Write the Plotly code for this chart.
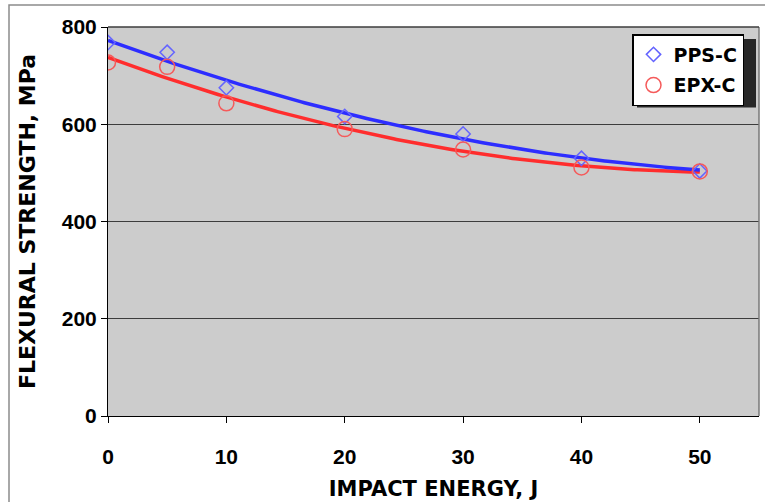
import numpy as np
import plotly.graph_objects as go

energy = [0, 5, 10, 20, 30, 40, 50]
pps_c = [768, 748, 675, 616, 580, 530, 504]
epx_c = [727, 718, 643, 590, 548, 511, 503]
series_names = ["PPS-C", "EPX-C"]
y_ticks = [0, 200, 400, 600, 800]
x_ticks = [0, 10, 20, 30, 40, 50]

# quadratic trendlines fitted to the data (as in the original spreadsheet chart)
xf = np.linspace(min(energy), max(energy), 200)
fit_pps = np.polyval(np.polyfit(energy, pps_c, 2), xf)
fit_epx = np.polyval(np.polyfit(energy, epx_c, 2), xf)

fig = go.Figure()
fig.add_trace(go.Scatter(x=xf, y=fit_epx, mode="lines", line=dict(color="rgb(255,45,45)", width=3.5),
                         showlegend=False, hoverinfo="skip"))
fig.add_trace(go.Scatter(x=xf, y=fit_pps, mode="lines", line=dict(color="rgb(45,45,255)", width=3.5),
                         showlegend=False, hoverinfo="skip"))
fig.add_trace(go.Scatter(x=energy, y=pps_c, mode="markers", name=series_names[0], legendgroup="a",
                         marker=dict(symbol="diamond-open", size=11, color="rgb(100,100,255)",
                                     line=dict(width=1.5, color="rgb(100,100,255)"))))
fig.add_trace(go.Scatter(x=energy, y=epx_c, mode="markers", name=series_names[1], legendgroup="b",
                         marker=dict(symbol="circle-open", size=15, color="rgb(245,90,90)",
                                     line=dict(width=1.5, color="rgb(245,90,90)"))))

L, R, T, B = 108, 6, 27, 86
W, H = 765, 502
pw, ph = W - L - R, H - T - B

def px(xp):
    return (xp - L) / pw

def py(yp):
    return (H - B - yp) / ph

fig.update_layout(
    width=W, height=H,
    margin=dict(l=L, r=R, t=T, b=B),
    paper_bgcolor="white",
    plot_bgcolor="rgb(204,204,204)",
    showlegend=True,
    legend=dict(x=px(632), y=py(34), xanchor="left", yanchor="top",
                bgcolor="white", bordercolor="black", borderwidth=1.5,
                font=dict(family="DejaVu Sans", size=19, color="black", weight="bold"),
                tracegroupgap=3),
    xaxis=dict(range=[0, 55], tickvals=x_ticks, showgrid=False, zeroline=False,
               showline=True, linecolor="black", linewidth=1, mirror=False,
               ticks="outside", ticklen=6, tickcolor="black", ticklabelstandoff=16,
               tickfont=dict(family="Liberation Sans", size=21, color="black", weight="bold"),
               title=dict(text="IMPACT ENERGY, J", standoff=14,
                          font=dict(family="DejaVu Sans", size=21, color="black", weight="bold"))),
    yaxis=dict(range=[0, 800], tickvals=y_ticks, showgrid=True, gridcolor="rgb(60,60,60)", gridwidth=1,
               zeroline=False, showline=True, linecolor="black", linewidth=1, mirror=False,
               ticks="outside", ticklen=6, tickcolor="black",
               tickfont=dict(family="Liberation Sans", size=21, color="black", weight="bold"),
               title=dict(text="FLEXURAL STRENGTH, MPa", standoff=20,
                          font=dict(family="DejaVu Sans", size=22, color="black", weight="bold"))),
    shapes=[
        dict(type="line", xref="paper", yref="paper", x0=1, x1=1, y0=0, y1=1,
             line=dict(color="rgb(120,120,120)", width=1.5)),
        dict(type="line", xref="paper", yref="paper", x0=0, x1=1, y0=1, y1=1,
             line=dict(color="rgb(60,60,60)", width=1.5)),
        dict(type="rect", xref="paper", yref="paper", x0=px(9), x1=1.5, y0=-0.5, y1=py(5),
             line=dict(color="rgb(140,140,140)", width=1.5), layer="below"),
        dict(type="rect", xref="paper", yref="paper", x0=px(637), x1=px(756), y0=py(107.5), y1=py(39),
             fillcolor="rgb(40,40,40)", line=dict(width=0), layer="above"),
    ],
)

fig.write_html("out.html")
